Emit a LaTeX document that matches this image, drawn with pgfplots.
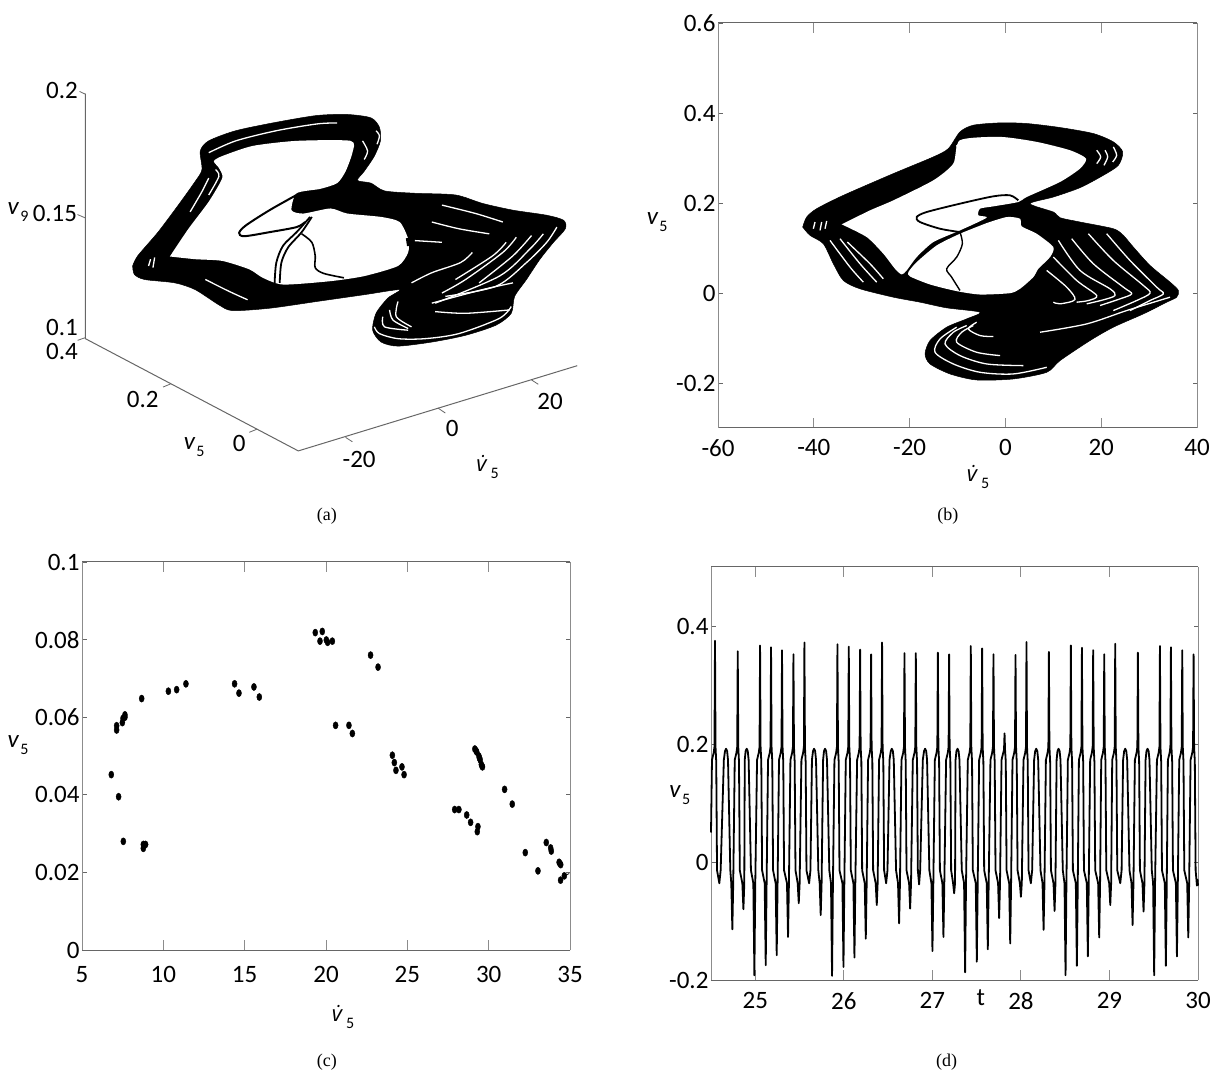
\documentclass[border=0pt]{standalone}
\usepackage{fontspec}
\usepackage{pgfplots}
\pgfplotsset{compat=1.18}
\setmainfont{Carlito}
\newfontfamily\capfont{Liberation Serif}
\newfontfamily\dotfont{Open Sans}
\definecolor{axdark}{HTML}{666666}
\definecolor{axlight}{HTML}{8C8C8C}
\newcommand{\tickfont}{\fontsize{25}{27}\selectfont}
\newcommand{\vlab}[1]{{\fontsize{25}{27}\selectfont\textit{v}\hspace{1pt}\raisebox{-7pt}{\fontsize{16}{16}\selectfont #1}}}
\newcommand{\vdotlab}{{{\dotfont\fontsize{22}{24}\selectfont\textit{\.v}}\hspace{1pt}\raisebox{-7pt}{\fontsize{16}{16}\selectfont 5}}}
\newcommand{\capt}[1]{{\capfont\fontsize{18}{20}\selectfont #1}}
\newcommand{\wl}[1]{\addplot[white,line width=1.3pt,smooth] coordinates {#1};}
\pgfplotsset{
  panel/.style={
    scale only axis, clip=false, separate axis lines,
    x axis line style={color=axdark,line width=1pt},
    y axis line style={color=axlight,line width=1pt},
    xtick style={color=axlight,line width=.9pt,/pgfplots/major tick length=10pt},
    ytick style={color=axdark,line width=.9pt,/pgfplots/major tick length=4.5pt},
    tick align=inside,
    tick label style={font=\tickfont},
    yticklabel style={xshift=1pt},
  },
}
\begin{document}
\begin{tikzpicture}[x=1pt,y=1pt]
\path[use as bounding box] (0,0) rectangle (1222,1076);

% ---------- (a) projected three-dimensional view, coordinates of the projection plane
\begin{axis}[at={(60pt,596pt)},anchor=south west,scale only axis,width=530pt,height=400pt,
  hide axis,clip=false,xmin=0,xmax=1568,ymin=0,ymax=1183,y dir=reverse]
\addplot[color=axdark,line width=1pt] coordinates {(75,40)(75,765)(705,1097)(1530,845)};
\addplot[color=axdark,line width=.8pt] coordinates {(58,34)(75,42)};
\addplot[color=axdark,line width=.8pt] coordinates {(52,398)(75,408)};
\addplot[color=axdark,line width=.8pt] coordinates {(52,770)(75,762)};
\addplot[color=axdark,line width=.8pt] coordinates {(305,908)(327,899)};
\addplot[color=axdark,line width=.8pt] coordinates {(560,1042)(582,1033)};
\addplot[color=axdark,line width=.8pt] coordinates {(845,1057)(865,1070)};
\addplot[color=axdark,line width=.8pt] coordinates {(1118,970)(1140,985)};
\addplot[color=axdark,line width=.8pt] coordinates {(1395,887)(1415,900)};
\addplot[fill=black,draw=black,line width=.5pt,smooth,tension=.45] coordinates {
(215,550)(230,520)(290,450)(350,370)(400,300)(420,265)(415,210)(440,180)(520,150)(640,125)(760,105)(850,102)(920,112)(945,140)(948,180)(930,225)(900,270)(880,297)(920,305)(960,328)(1050,335)(1170,340)(1250,365)(1340,385)(1440,400)(1490,415)(1495,440)(1460,480)(1420,530)(1380,590)(1345,640)(1335,690)(1290,725)(1200,755)(1100,775)(1000,787)(950,775)(925,740)(935,690)(970,645)(1005,620)(900,635)(760,655)(620,675)(510,682)(470,665)(400,620)(340,600)(250,590)(220,575)(215,550)};
\addplot[fill=white,draw=none,smooth,tension=.4] coordinates {
(325,522)(380,440)(440,360)(480,290)(470,260)(455,240)(480,225)(570,195)(700,180)(860,180)(865,215)(845,270)(820,305)(770,322)(700,335)(685,385)(720,395)(800,380)(850,395)(950,405)(1005,420)(1030,470)(1030,510)(1000,550)(900,580)(800,595)(660,605)(600,585)(560,560)(480,535)(400,530)(325,522)};
\addplot[black,line width=2pt,smooth] coordinates {(700,340)(620,385)(550,430)(530,452)(545,462)(620,450)(700,435)(725,420)};
\addplot[black,line width=1.8pt,smooth] coordinates {(740,405)(700,450)(660,490)(640,540)(635,600)};
\addplot[black,line width=1.8pt,smooth] coordinates {(745,405)(715,450)(675,495)(655,540)(650,600)};
\addplot[black,line width=1.6pt,smooth] coordinates {(715,455)(745,480)(755,520)(755,555)(780,572)(840,585)};
\addplot[black,line width=6pt] coordinates {(700,345)(700,385)};
\addplot[black,line width=14pt] coordinates {(860,355)(930,350)};
\addplot[black,line width=8pt] coordinates {(1020,440)(1060,420)};
\addplot[black,line width=8pt] coordinates {(1025,480)(1090,470)};
\wl{(440,215)(520,180)(640,150)(760,130)(820,127)}
\wl{(895,180)(910,210)(900,235)}
\wl{(935,150)(945,165)(938,190)}
\wl{(440,290)(420,330)(385,390)}
\wl{(460,265)(470,285)(440,340)}
\wl{(268,530)(262,550)}
\wl{(280,525)(275,555)}
\wl{(430,590)(500,625)(555,650)}
\wl{(1130,370)(1230,395)(1310,420)}
\wl{(1100,420)(1180,440)(1270,455)}
\wl{(1050,475)(1130,480)}
\wl{(1470,435)(1440,480)(1380,540)(1290,610)(1140,640)}
\wl{(1430,455)(1390,500)(1300,580)(1110,660)}
\wl{(1395,460)(1340,520)(1240,600)}
\wl{(1350,465)(1310,510)(1200,590)(1130,630)}
\wl{(1320,480)(1280,520)(1170,590)}
\wl{(1220,510)(1185,540)(1100,570)(1040,600)}
\wl{(930,730)(945,750)(1000,765)(1080,765)(1180,750)(1300,705)(1335,670)}
\wl{(955,700)(960,730)(1030,740)}
\wl{(975,680)(985,710)(1030,735)}
\wl{(1000,655)(995,700)(1040,730)}
\wl{(1110,685)(1200,690)(1330,680)}
\wl{(1100,660)(1250,620)(1340,600)}
\node[font=\tickfont] at (axis cs:6,30) {0.2};
\node[font=\tickfont] at (axis cs:-15,396) {0.15};
\node[font=\tickfont] at (axis cs:6,732) {0.1};
\node[font=\tickfont] at (axis cs:6,802) {0.4};
\node[font=\tickfont] at (axis cs:245,945) {0.2};
\node[font=\tickfont] at (axis cs:530,1075) {0};
\node[font=\tickfont] at (axis cs:885,1122) {-20};
\node[font=\tickfont] at (axis cs:1160,1030) {0};
\node[font=\tickfont] at (axis cs:1450,950) {20};
\node at (axis cs:397,1085) {\vlab{5}};
\node at (axis cs:1265,1145) {\vdotlab};
\node at (axis cs:-124,390) {\vlab{9}};
\end{axis}

% ---------- (b)
\begin{axis}[panel,at={(718pt,648pt)},anchor=south west,width=479pt,height=405pt,
  xmin=-60,xmax=40,ymin=-0.3,ymax=0.6,
  xticklabel style={yshift=-8pt},
  xtick={-60,-40,-20,0,20,40},xticklabels={-60,-40,-20,0,20,40},
  ytick={-0.2,0,0.2,0.4,0.6},yticklabels={-0.2,0,0.2,0.4,0.6},
  xlabel={\vdotlab},ylabel={\vlab{5}},
  every axis x label/.style={at={(axis description cs:0.543,-0.121)},anchor=center},
  every axis y label/.style={at={(axis description cs:-0.127,0.509)},anchor=center}]
\addplot[fill=black,draw=black,line width=.5pt,smooth,tension=.45] coordinates {
(-42.32,.1465)(-41.49,.1688)(-39.40,.1873)(-33.83,.2170)(-23.39,.2653)(-15.04,.3024)(-11.91,.3209)(-9.48,.3580)(-6.69,.3729)(-1.12,.3780)(4.44,.3766)(11.40,.3677)(18.36,.3543)(22.53,.3358)(24.48,.3135)(23.58,.2838)(20.45,.2616)(15.58,.2341)(10.01,.2133)(5.14,.1985)(10.01,.1799)(11.40,.1673)(15.58,.1577)(22.53,.1428)(24.62,.1280)(26.71,.1020)(30.19,.0612)(34.37,.0241)(36.11,.0056)(35.76,-.0093)(33.67,-.0204)(28.80,-.0464)(22.53,-.0760)(17.66,-.1057)(11.40,-.1502)(8.62,-.1762)(1.66,-.1910)(-6.00,-.1933)(-11.56,-.1799)(-15.74,-.1577)(-16.78,-.1354)(-15.74,-.1057)(-12.26,-.0760)(-8.08,-.0575)(-5.30,-.0427)(-12.26,-.0330)(-17.83,-.0204)(-23.39,-.0093)(-30.35,.0093)(-33.83,.0278)(-35.92,.0649)(-38.01,.1094)(-40.79,.1280)(-42.32,.1465)};
\addplot[fill=white,draw=none,smooth,tension=.4] coordinates {
(-34.18,.1525)(-28.27,.1836)(-23.39,.2059)(-15.04,.2504)(-10.87,.2875)(-9.48,.3395)(-1.12,.3469)(6.53,.3358)(13.49,.3172)(16.83,.2987)(15.58,.2764)(11.40,.2467)(4.44,.2133)(2.70,.2022)(-2.52,.1925)(-5.30,.1873)(-5.65,.1725)(-3.91,.1673)(-9.48,.1391)(-15.04,.1132)(-18.52,.0798)(-20.61,.0501)(-21.66,.0412)(-23.05,.0538)(-25.48,.0872)(-28.96,.1243)(-34.18,.1525)};
\addplot[fill=white,draw=none,smooth,tension=.4] coordinates {
(-3.91,.1554)(0.27,.1688)(3.05,.1651)(3.40,.1480)(6.53,.1317)(10.01,.1020)(9.32,.0798)(6.88,.0538)(5.83,.0352)(3.05,.0093)(0.96,-.0004)(-5.30,-.0034)(-10.17,.0041)(-15.74,.0189)(-19.91,.0367)(-20.26,.0464)(-18.52,.0686)(-14.35,.1057)(-9.48,.1317)(-3.91,.1554)};
\addplot[black,line width=1.8pt,smooth] coordinates {(2.70,.2059)(0.96,.2170)(-2.52,.2148)(-9.48,.1985)(-16.44,.1799)(-18.52,.1688)(-17.83,.1577)(-13.65,.1428)(-9.48,.1354)};
\addplot[black,line width=1.4pt,smooth] coordinates {(-9.48,.1354)(-8.99,.1094)(-10.17,.0798)(-12.26,.0538)(-11.23,.0352)(-9.48,.0056)};
\wl{(21.14,.1317)(26.01,.0723)(31.58,.0130)(32.97,-.0019)(30.19,-.0167)(26.01,-.0390)}
\wl{(17.32,.1317)(22.53,.0723)(28.80,.0167)(30.19,-.0004)(27.41,-.0167)(22.53,-.0390)}
\wl{(13.84,.1206)(18.36,.0649)(24.62,.0130)(26.36,-.0019)(23.93,-.0130)(19.75,-.0278)}
\wl{(11.05,.1169)(15.58,.0501)(21.84,.0093)(22.88,-.0056)(20.45,-.0152)(16.97,-.0241)}
\wl{(10.01,.0798)(14.88,.0278)(19.06,-.0056)(17.32,-.0167)(14.88,-.0204)}
\wl{(8.62,.0501)(12.79,.0130)(14.53,-.0145)(11.40,-.0241)(10.01,-.0204)}
\wl{(-36.62,.1169)(-32.44,.0575)(-29.66,.0241)}
\wl{(-34.53,.1206)(-30.35,.0649)(-26.87,.0241)}
\wl{(-33.00,.1132)(-28.27,.0649)(-25.48,.0315)}
\wl{(19.06,.3172)(19.89,.3024)(19.06,.2875)}
\wl{(20.79,.3172)(21.35,.3024)(20.58,.2838)}
\wl{(22.53,.3246)(23.23,.3061)(22.40,.2912)}
\wl{(-10.17,.3283)(-9.83,.3061)(-10.87,.2838)}
\wl{(-39.75,.1577)(-40.10,.1428)}
\wl{(-38.36,.1577)(-38.70,.1391)}
\wl{(-37.31,.1599)(-37.66,.1428)}
\wl{(8.62,-.1651)(1.66,-.1799)(-5.30,-.1762)(-10.87,-.1577)(-14.70,-.1317)(-13.65,-.1020)(-10.17,-.0760)}
\wl{(3.75,-.1614)(-3.91,-.1577)(-9.48,-.1391)(-12.61,-.1132)(-10.87,-.0872)(-8.08,-.0724)}
\wl{(-1.12,-.1391)(-6.00,-.1317)(-10.17,-.1095)(-9.13,-.0872)(-6.69,-.0724)}
\wl{(-2.52,-.0968)(-5.30,-.0946)(-7.74,-.0798)(-6.0,-.0650)}
\wl{(34.37,-.0093)(25.32,-.0390)(16.97,-.0687)(7.23,-.0872)}
\node at (axis description cs:0.48,-0.217) {\capt{(b)}};
\end{axis}

% ---------- (c)
\begin{axis}[panel,at={(82pt,126pt)},anchor=south west,width=488pt,height=388pt,
  xmin=5,xmax=35,ymin=0,ymax=0.1,
  xticklabel style={yshift=-13pt},
  xtick={5,10,15,20,25,30,35},xticklabels={5,10,15,20,25,30,35},
  ytick={0,0.02,0.04,0.06,0.08,0.1},yticklabels={0,0.02,0.04,0.06,0.08,0.1},
  xlabel={\vdotlab},ylabel={\vlab{5}},
  every axis x label/.style={at={(axis description cs:0.535,-0.173)},anchor=center},
  every axis y label/.style={at={(axis description cs:-0.131,0.528)},anchor=center}]
\addplot[only marks,mark=*,mark size=3.6pt,mark options={xscale=.7,fill=black,draw=black}] coordinates {
(6.80,.0452)(7.25,.0395)(7.13,.0578)(7.13,.0567)(7.48,.0586)(7.52,.0597)(7.64,.0600)(7.64,.0606)(8.67,.0648)(7.54,.0280)(8.77,.0262)(8.77,.0272)(8.91,.0272)(10.31,.0667)(10.82,.0671)(11.39,.0686)(14.38,.0686)(14.65,.0662)(15.57,.0678)(15.90,.0652)(19.34,.0818)(19.77,.0821)(19.63,.0796)(20.02,.0799)(20.10,.0793)(20.39,.0796)(22.74,.0760)(23.20,.0729)(20.59,.0579)(21.41,.0579)(21.62,.0558)(24.08,.0502)(24.20,.0483)(24.30,.0463)(24.67,.0472)(24.80,.0452)(27.91,.0362)(28.17,.0362)(28.65,.0348)(28.89,.0329)(29.34,.0318)(29.30,.0305)(29.15,.0518)(29.22,.0514)(29.27,.0510)(29.40,.0500)(29.43,.0495)(29.48,.0490)(29.55,.0478)(29.59,.0474)(29.62,.0472)(30.98,.0414)(31.45,.0376)(32.25,.0251)(33.03,.0204)(33.54,.0277)(33.81,.0263)(33.85,.0255)(34.33,.0226)(34.38,.0223)(34.43,.0220)(34.42,.0180)(34.65,.0191)};
\addplot[black,line width=.8pt] coordinates {(34.65,.0191)(34.95,.0197)};
\node at (axis description cs:0.502,-0.289) {\capt{(c)}};
\node at (axis description cs:0.502,1.118) {\capt{(a)}};
\end{axis}

% ---------- (d)
\begin{axis}[panel,at={(711pt,96pt)},anchor=south west,width=487pt,height=413pt,
  xmin=24.5,xmax=30,ymin=-0.2,ymax=0.5,
  xticklabel style={yshift=-9pt},
  xtick={25,26,27,28,29,30},xticklabels={25,26,27,28,29,30},
  ytick={-0.2,0,0.2,0.4},yticklabels={-0.2,0,0.2,0.4},
  xlabel={\fontsize{25}{27}\selectfont t},ylabel={\vlab{5}},
  every axis x label/.style={at={(axis description cs:0.554,-0.044)},anchor=center},
  every axis y label/.style={at={(axis description cs:-0.064,0.448)},anchor=center}]
\addplot[black,line width=1.8pt,line join=round] coordinates {
(24.500,.05)(24.511,.173)(24.530,.185)(24.539,.195)(24.545,.375)(24.551,.195)(24.559,.17)(24.568,-.014)(24.594,-.036)(24.609,-.014)
(24.645,.173)(24.658,.188)(24.670,.192)(24.682,.188)(24.692,.173)(24.718,-.014)(24.729,-.036)(24.741,-.114)(24.751,-.036)
(24.768,.173)(24.787,.185)(24.796,.195)(24.802,.357)(24.808,.195)(24.816,.17)(24.825,-.014)(24.854,-.036)(24.866,-.080)(24.876,-.036)
(24.881,.173)(24.891,.188)(24.903,.192)(24.915,.188)(24.925,.173)(24.951,-.014)(24.978,-.036)(24.990,-.192)(25.000,-.036)
(25.020,.173)(25.039,.185)(25.048,.195)(25.054,.367)(25.060,.195)(25.068,.17)(25.077,-.014)(25.106,-.036)(25.118,-.175)(25.128,-.036)
(25.144,.173)(25.163,.185)(25.172,.195)(25.178,.364)(25.184,.195)(25.192,.17)(25.201,-.014)(25.230,-.036)(25.242,-.158)(25.252,-.036)
(25.268,.173)(25.287,.185)(25.296,.195)(25.302,.359)(25.308,.195)(25.316,.17)(25.325,-.014)(25.358,-.036)(25.370,-.127)(25.380,-.036)
(25.397,.173)(25.416,.185)(25.425,.195)(25.431,.352)(25.437,.195)(25.445,.17)(25.454,-.014)(25.479,-.036)(25.491,-.070)(25.501,-.036)
(25.521,.173)(25.540,.185)(25.549,.195)(25.555,.372)(25.561,.195)(25.569,.17)(25.578,-.014)(25.608,-.036)(25.623,-.014)
(25.640,.173)(25.652,.188)(25.664,.192)(25.676,.188)(25.686,.173)(25.712,-.014)(25.727,-.036)(25.739,-.090)(25.749,-.036)
(25.766,.173)(25.776,.188)(25.788,.192)(25.800,.188)(25.810,.173)(25.836,-.014)(25.855,-.036)(25.867,-.193)(25.877,-.036)
(25.894,.173)(25.913,.185)(25.922,.195)(25.928,.369)(25.934,.195)(25.942,.17)(25.951,-.014)(25.984,-.036)(25.996,-.178)(26.006,-.036)
(26.022,.173)(26.041,.185)(26.050,.195)(26.056,.365)(26.062,.195)(26.070,.17)(26.079,-.014)(26.108,-.036)(26.120,-.162)(26.130,-.036)
(26.150,.173)(26.169,.185)(26.178,.195)(26.184,.360)(26.190,.195)(26.198,.17)(26.207,-.014)(26.236,-.036)(26.248,-.130)(26.258,-.036)
(26.274,.173)(26.293,.185)(26.302,.195)(26.308,.352)(26.314,.195)(26.322,.17)(26.331,-.014)(26.360,-.036)(26.372,-.073)(26.382,-.036)
(26.398,.173)(26.417,.185)(26.426,.195)(26.432,.372)(26.438,.195)(26.446,.17)(26.455,-.014)(26.478,-.036)(26.493,-.014)
(26.516,.173)(26.530,.188)(26.542,.192)(26.554,.188)(26.564,.173)(26.590,-.014)(26.612,-.036)(26.624,-.104)(26.634,-.036)
(26.651,.173)(26.670,.185)(26.679,.195)(26.685,.354)(26.691,.195)(26.699,.17)(26.708,-.014)(26.737,-.036)(26.749,-.079)(26.759,-.036)
(26.779,.173)(26.798,.185)(26.807,.195)(26.813,.354)(26.819,.195)(26.827,.17)(26.836,-.014)(26.850,-.038)(26.862,-.014)
(26.892,.173)(26.906,.188)(26.918,.192)(26.930,.188)(26.940,.173)(26.966,-.014)(26.989,-.036)(27.001,-.151)(27.011,-.036)
(27.028,.173)(27.047,.185)(27.056,.195)(27.062,.355)(27.068,.195)(27.076,.17)(27.085,-.014)(27.113,-.036)(27.125,-.127)(27.135,-.036)
(27.155,.173)(27.174,.185)(27.183,.195)(27.189,.352)(27.195,.195)(27.203,.17)(27.212,-.014)(27.234,-.036)(27.246,-.053)(27.256,-.036)
(27.262,.173)(27.272,.188)(27.284,.192)(27.296,.188)(27.306,.173)(27.332,-.014)(27.358,-.036)(27.370,-.187)(27.380,-.036)
(27.400,.173)(27.419,.185)(27.428,.195)(27.434,.366)(27.440,.195)(27.448,.17)(27.457,-.014)(27.490,-.036)(27.502,-.169)(27.512,-.036)
(27.528,.173)(27.547,.185)(27.556,.195)(27.562,.362)(27.568,.195)(27.576,.17)(27.585,-.014)(27.614,-.036)(27.626,-.148)(27.636,-.036)
(27.656,.173)(27.675,.185)(27.684,.195)(27.690,.352)(27.696,.195)(27.704,.17)(27.713,-.014)(27.742,-.036)(27.754,-.095)(27.764,-.036)
(27.781,.173)(27.800,.185)(27.809,.190)(27.815,.218)(27.821,.190)(27.829,.17)(27.838,-.014)(27.867,-.036)(27.879,-.138)(27.889,-.036)
(27.905,.173)(27.924,.185)(27.933,.195)(27.939,.351)(27.945,.195)(27.953,.17)(27.962,-.014)(27.988,-.036)(28.000,-.059)(28.010,-.036)
(28.029,.173)(28.048,.185)(28.057,.195)(28.063,.373)(28.069,.195)(28.077,.17)(28.086,-.014)(28.112,-.036)(28.127,-.014)
(28.149,.173)(28.161,.188)(28.173,.192)(28.185,.188)(28.195,.173)(28.221,-.014)(28.244,-.036)(28.256,-.115)(28.266,-.036)
(28.282,.173)(28.301,.185)(28.310,.195)(28.316,.356)(28.322,.195)(28.330,.17)(28.339,-.014)(28.368,-.036)(28.380,-.083)(28.390,-.036)
(28.403,.173)(28.413,.188)(28.425,.192)(28.437,.188)(28.447,.173)(28.473,-.014)(28.492,-.036)(28.504,-.192)(28.514,-.036)
(28.530,.173)(28.549,.185)(28.558,.195)(28.564,.367)(28.570,.195)(28.578,.17)(28.587,-.014)(28.620,-.036)(28.632,-.176)(28.642,-.036)
(28.655,.173)(28.674,.185)(28.683,.195)(28.689,.363)(28.695,.195)(28.703,.17)(28.712,-.014)(28.744,-.036)(28.756,-.160)(28.766,-.036)
(28.782,.173)(28.801,.185)(28.810,.195)(28.816,.359)(28.822,.195)(28.830,.17)(28.839,-.014)(28.872,-.036)(28.884,-.128)(28.894,-.036)
(28.907,.173)(28.926,.185)(28.935,.195)(28.941,.352)(28.947,.195)(28.955,.17)(28.964,-.014)(28.997,-.036)(29.009,-.073)(29.019,-.036)
(29.031,.173)(29.050,.185)(29.059,.195)(29.065,.370)(29.071,.195)(29.079,.17)(29.088,-.014)(29.122,-.036)(29.137,-.014)
(29.154,.173)(29.166,.188)(29.178,.192)(29.190,.188)(29.200,.173)(29.226,-.014)(29.249,-.036)(29.261,-.107)(29.271,-.036)
(29.287,.173)(29.306,.185)(29.315,.195)(29.321,.355)(29.327,.195)(29.335,.17)(29.344,-.014)(29.373,-.036)(29.385,-.084)(29.395,-.036)
(29.408,.173)(29.418,.188)(29.430,.192)(29.442,.188)(29.452,.173)(29.478,-.014)(29.493,-.036)(29.505,-.192)(29.515,-.036)
(29.536,.173)(29.555,.185)(29.564,.195)(29.570,.366)(29.576,.195)(29.584,.17)(29.593,-.014)(29.625,-.036)(29.637,-.176)(29.647,-.036)
(29.660,.173)(29.679,.185)(29.688,.195)(29.694,.364)(29.700,.195)(29.708,.17)(29.717,-.014)(29.750,-.036)(29.762,-.160)(29.772,-.036)
(29.788,.173)(29.807,.185)(29.816,.195)(29.822,.359)(29.828,.195)(29.836,.17)(29.845,-.014)(29.878,-.036)(29.890,-.128)(29.900,-.036)
(29.916,.173)(29.935,.185)(29.944,.195)(29.950,.352)(29.956,.195)(29.964,.17)(29.973,-.014)(29.988,-.040)(29.995,-.030)(30.000,-.040)};
\node at (axis description cs:0.484,-0.198) {\capt{(d)}};
\end{axis}
\end{tikzpicture}
\end{document}
